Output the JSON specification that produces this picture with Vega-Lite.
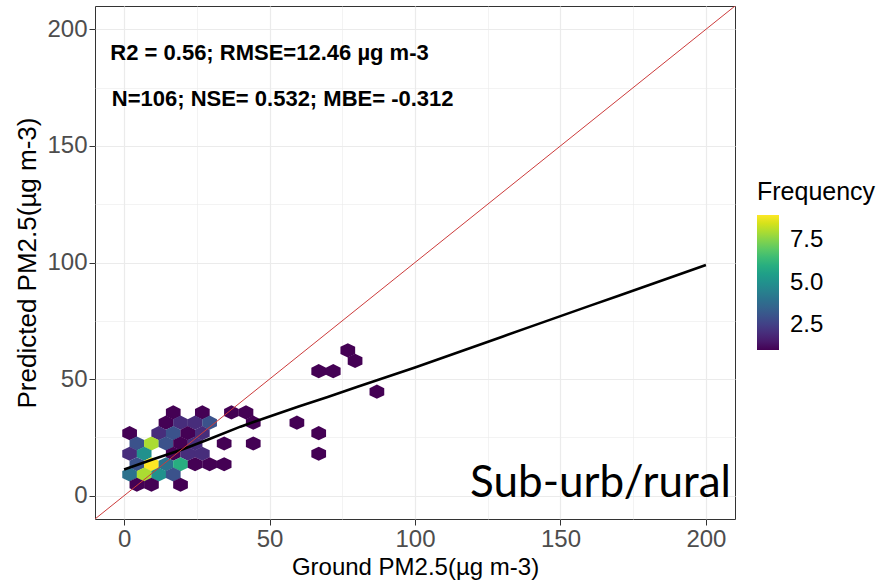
{
  "$schema": "https://vega.github.io/schema/vega-lite/v6.json",
  "width": 640,
  "height": 513,
  "autosize": "none",
  "padding": {"left": 95, "top": 6, "right": 155, "bottom": 65},
  "background": "white",
  "config": {
    "view": {"stroke": "#333333", "strokeWidth": 1},
    "font": "Liberation Sans"
  },
  "datasets": {
    "hex": [
      {"x": 16.9, "y": 35.7, "count": 1},
      {"x": 26.9, "y": 35.7, "count": 1},
      {"x": 36.9, "y": 35.7, "count": 1},
      {"x": 41.9, "y": 35.7, "count": 1},
      {"x": 14.4, "y": 31.3, "count": 1},
      {"x": 19.4, "y": 31.3, "count": 2},
      {"x": 24.4, "y": 31.3, "count": 2},
      {"x": 29.4, "y": 31.3, "count": 3},
      {"x": 44.4, "y": 31.3, "count": 1},
      {"x": 59.4, "y": 31.3, "count": 1},
      {"x": 1.9, "y": 26.8, "count": 1},
      {"x": 11.9, "y": 26.8, "count": 2},
      {"x": 16.9, "y": 26.8, "count": 3},
      {"x": 21.9, "y": 26.8, "count": 1},
      {"x": 26.9, "y": 26.8, "count": 2},
      {"x": 66.9, "y": 26.8, "count": 1},
      {"x": 4.4, "y": 22.4, "count": 3},
      {"x": 9.4, "y": 22.4, "count": 8},
      {"x": 14.4, "y": 22.4, "count": 3},
      {"x": 19.4, "y": 22.4, "count": 1},
      {"x": 24.4, "y": 22.4, "count": 2},
      {"x": 34.4, "y": 22.4, "count": 1},
      {"x": 44.4, "y": 22.4, "count": 1},
      {"x": 1.9, "y": 18.0, "count": 2},
      {"x": 6.9, "y": 18.0, "count": 5},
      {"x": 16.9, "y": 18.0, "count": 1},
      {"x": 21.9, "y": 18.0, "count": 2},
      {"x": 26.9, "y": 18.0, "count": 2},
      {"x": 66.9, "y": 18.0, "count": 1},
      {"x": 4.4, "y": 13.5, "count": 3},
      {"x": 9.4, "y": 13.5, "count": 9},
      {"x": 14.4, "y": 13.5, "count": 4},
      {"x": 19.4, "y": 13.5, "count": 6},
      {"x": 24.4, "y": 13.5, "count": 1},
      {"x": 29.4, "y": 13.5, "count": 1},
      {"x": 34.4, "y": 13.5, "count": 1},
      {"x": 1.9, "y": 9.1, "count": 4},
      {"x": 6.9, "y": 9.1, "count": 8},
      {"x": 11.9, "y": 9.1, "count": 5},
      {"x": 16.9, "y": 9.1, "count": 3},
      {"x": 4.4, "y": 4.7, "count": 1},
      {"x": 9.4, "y": 4.7, "count": 1},
      {"x": 19.4, "y": 4.7, "count": 1},
      {"x": 76.9, "y": 62.3, "count": 1},
      {"x": 79.4, "y": 57.8, "count": 1},
      {"x": 66.9, "y": 53.4, "count": 1},
      {"x": 71.9, "y": 53.4, "count": 1},
      {"x": 86.9, "y": 44.6, "count": 1}
    ],
    "fit": [
      {"x": 0, "y": 11.2}, {"x": 10, "y": 15.6}, {"x": 20, "y": 19.8},
      {"x": 30, "y": 24.6}, {"x": 40, "y": 29.6}, {"x": 50, "y": 34.0},
      {"x": 60, "y": 38.2}, {"x": 70, "y": 42.3}, {"x": 80, "y": 46.6},
      {"x": 90, "y": 50.8}, {"x": 100, "y": 55.0}, {"x": 110, "y": 59.4},
      {"x": 120, "y": 63.8}, {"x": 130, "y": 68.2}, {"x": 140, "y": 72.6},
      {"x": 150, "y": 77.0}, {"x": 160, "y": 81.4}, {"x": 170, "y": 85.7},
      {"x": 180, "y": 90.1}, {"x": 190, "y": 94.5}, {"x": 200, "y": 98.9}
    ],
    "oneone": [{"x": -10, "y": -10}, {"x": 210, "y": 210}]
  },
  "layer": [
    {
      "data": {"name": "hex"},
      "mark": {
        "type": "point",
        "filled": true,
        "opacity": 1,
        "strokeWidth": 0,
        "size": 200,
        "shape": "M0,-1L1.04,-0.5L1.04,0.5L0,1L-1.04,0.5L-1.04,-0.5Z"
      },
      "encoding": {
        "x": {
          "field": "x", "type": "quantitative",
          "scale": {"domain": [-10, 210], "nice": false, "zero": false},
          "axis": {
            "title": "Ground PM2.5(µg m-3)",
            "values": [0, 25, 50, 75, 100, 125, 150, 175, 200],
            "labelExpr": "datum.value % 50 === 0 ? datum.label : ''",
            "domain": false,
            "grid": true,
            "gridColor": "#ebebeb",
            "gridWidth": {"condition": {"test": "datum.value % 50 !== 0", "value": 0.6}, "value": 1.2},
            "tickOpacity": {"condition": {"test": "datum.value % 50 !== 0", "value": 0}, "value": 1},
            "tickColor": "#333333",
            "tickSize": 6,
            "labelFontSize": 24,
            "labelColor": "#4d4d4d",
            "labelPadding": 2,
            "labelFlush": false,
            "titleFontSize": 24,
            "titleFontWeight": "normal",
            "titleColor": "#000000",
            "titlePadding": 4
          }
        },
        "y": {
          "field": "y", "type": "quantitative",
          "scale": {"domain": [-10, 210], "nice": false, "zero": false},
          "axis": {
            "title": "Predicted PM2.5(µg m-3)",
            "values": [0, 25, 50, 75, 100, 125, 150, 175, 200],
            "labelExpr": "datum.value % 50 === 0 ? datum.label : ''",
            "domain": false,
            "grid": true,
            "gridColor": "#ebebeb",
            "gridWidth": {"condition": {"test": "datum.value % 50 !== 0", "value": 0.6}, "value": 1.2},
            "tickOpacity": {"condition": {"test": "datum.value % 50 !== 0", "value": 0}, "value": 1},
            "tickColor": "#333333",
            "tickSize": 6,
            "labelFontSize": 24,
            "labelColor": "#4d4d4d",
            "labelPadding": 2,
            "labelFlush": false,
            "titleFontSize": 26,
            "titleFontWeight": "normal",
            "titleColor": "#000000",
            "titlePadding": 6
          }
        },
        "color": {
          "field": "count", "type": "quantitative",
          "scale": {"scheme": "viridis", "domain": [1, 9]},
          "legend": {
            "title": "Frequency",
            "orient": "none",
            "legendX": 662,
            "legendY": 174,
            "direction": "vertical",
            "gradientLength": 135,
            "gradientThickness": 22,
            "gradientStrokeWidth": 0,
            "values": [2.5, 5, 7.5],
            "format": ".1f",
            "titleFontSize": 25,
            "titleFontWeight": "normal",
            "titleColor": "#000000",
            "titlePadding": 10,
            "labelFontSize": 24,
            "labelColor": "#000000",
            "labelOffset": 11
          }
        }
      }
    },
    {
      "data": {"name": "fit"},
      "mark": {"type": "line", "color": "#000000", "strokeWidth": 2.6},
      "encoding": {
        "x": {"field": "x", "type": "quantitative"},
        "y": {"field": "y", "type": "quantitative"}
      }
    },
    {
      "data": {"name": "oneone"},
      "mark": {"type": "line", "color": "#cc3b3b", "strokeWidth": 1, "clip": true},
      "encoding": {
        "x": {"field": "x", "type": "quantitative"},
        "y": {"field": "y", "type": "quantitative"}
      }
    },
    {
      "data": {"values": [{"label": "R2 = 0.56; RMSE=12.46 µg m-3"}]},
      "mark": {"type": "text", "fontSize": 22, "fontWeight": "bold", "align": "center", "baseline": "middle", "color": "#000000"},
      "encoding": {
        "x": {"datum": 50},
        "y": {"datum": 190},
        "text": {"field": "label"}
      }
    },
    {
      "data": {"values": [{"label": "N=106; NSE= 0.532; MBE= -0.312"}]},
      "mark": {"type": "text", "fontSize": 22, "fontWeight": "bold", "align": "center", "baseline": "middle", "color": "#000000"},
      "encoding": {
        "x": {"datum": 54.5},
        "y": {"datum": 170.3},
        "text": {"field": "label"}
      }
    },
    {
      "data": {"values": [{"label": "Sub-urb/rural"}]},
      "mark": {"type": "text", "fontSize": 44, "font": "Lato", "align": "right", "baseline": "alphabetic", "color": "#000000"},
      "encoding": {
        "x": {"datum": 208.6},
        "y": {"datum": -0.4},
        "text": {"field": "label"}
      }
    }
  ]
}
